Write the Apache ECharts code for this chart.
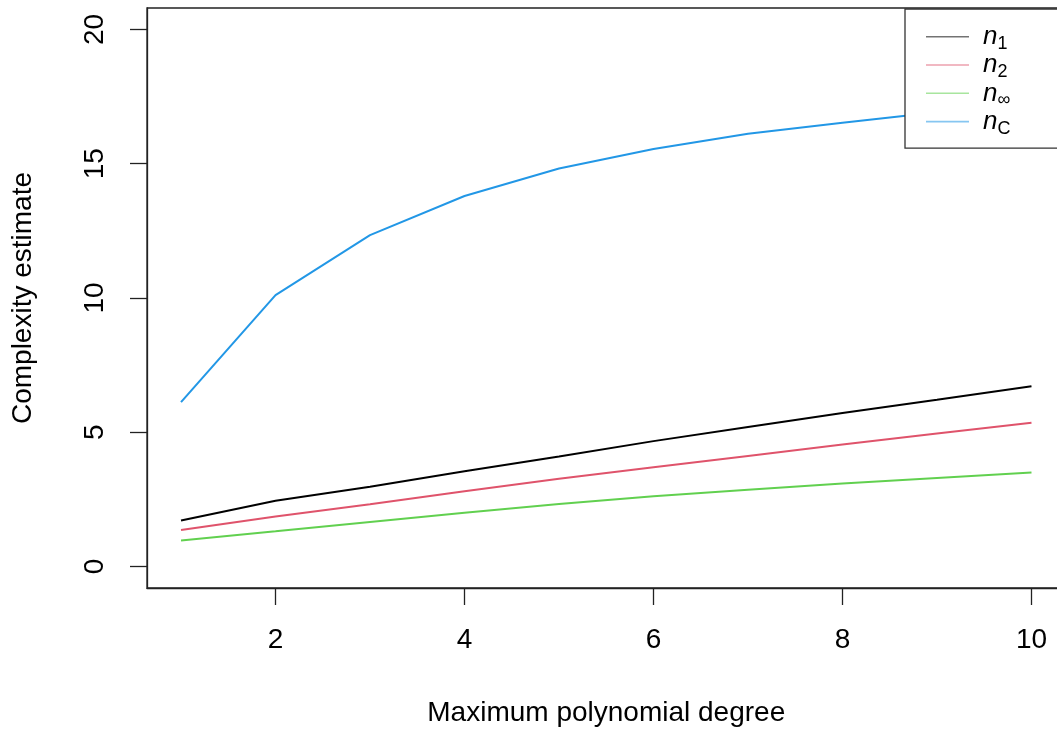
<!DOCTYPE html>
<html lang="en">
  <head>
    <meta charset="UTF-8" />
    <title>Complexity estimate</title>
    <style>
      html, body { margin: 0; padding: 0; background: #fff; }
      #main { width: 1057px; height: 731px; }
    </style>
  </head>
  <body>
    <div id="main"></div>
    <script src="https://cdn.jsdelivr.net/npm/echarts@6/dist/echarts.min.js"></script>
    <script>
      // data
      const degrees = [1, 2, 3, 4, 5, 6, 7, 8, 9, 10];
      const n1 = [1.71, 2.45, 2.97, 3.55, 4.1, 4.67, 5.2, 5.72, 6.21, 6.71];
      const n2 = [1.36, 1.86, 2.32, 2.8, 3.27, 3.7, 4.12, 4.54, 4.95, 5.35];
      const nInf = [0.97, 1.31, 1.66, 2.0, 2.33, 2.62, 2.86, 3.09, 3.3, 3.5];
      const nC = [6.12, 10.11, 12.34, 13.8, 14.82, 15.55, 16.12, 16.53, 16.92, 17.25];
      const xTicks = [2, 4, 6, 8, 10];
      const yTicks = [0, 5, 10, 15, 20];

      const seriesNames = ["n1", "n2", "ninf", "nC"];
      const subs = { n1: "1", n2: "2", ninf: "∞", nC: "C" };
      const colors = ["#000000", "#DF536B", "#61D04F", "#2297E6"];
      const values = [n1, n2, nInf, nC];

      const font = "'Liberation Sans', Arial, Helvetica, sans-serif";
      const myChart = echarts.init(document.getElementById("main"));

      const pairs = (ys) => degrees.map((d, i) => [d, ys[i]]);

      const option = {
        backgroundColor: "#fff",
        animation: false,
        grid: {
          left: 147,
          width: 918.5,
          top: 8,
          bottom: 143,
          outerBoundsMode: "none",
          containLabel: false,
          show: true,
          borderColor: "#222",
          borderWidth: 1.3,
        },
        legend: {
          orient: "vertical",
          left: 905,
          top: 9,
          padding: [13.7, 160, 10.5, 21],
          itemGap: -1.7,
          itemWidth: 43,
          itemHeight: 1.6,
          icon: "rect",
          backgroundColor: "#fff",
          borderColor: "#333",
          borderWidth: 1.3,
          itemStyle: { opacity: 0.55 },
          textStyle: {
            lineHeight: 28,
            padding: [0, 0, 0, 9],
            rich: {
              n: { fontFamily: font, fontSize: 26, fontStyle: "italic", color: "#000", lineHeight: 28, verticalAlign: "middle" },
              s: { fontFamily: font, fontSize: 18, color: "#000", lineHeight: 28, height: 14, verticalAlign: "bottom" },
            },
          },
          formatter: (name) => "{n|n}{s|" + subs[name] + "}",
          data: seriesNames,
        },
        xAxis: {
          type: "value",
          min: 0.64,
          max: 10.36,
          name: "Maximum polynomial degree",
          nameLocation: "middle",
          nameGap: 111,
          nameTextStyle: { fontFamily: font, fontSize: 28, color: "#000" },
          splitLine: { show: false },
          axisLine: { show: true, onZero: false, lineStyle: { color: "#222", width: 1.3 } },
          axisTick: {
            show: true,
            inside: false,
            length: 17,
            customValues: xTicks,
            lineStyle: { color: "#222", width: 1.3 },
          },
          axisLabel: {
            customValues: xTicks,
            margin: 38,
            fontFamily: font,
            fontSize: 28,
            color: "#000",
          },
        },
        yAxis: {
          type: "value",
          min: -0.8,
          max: 20.8,
          name: "Complexity estimate",
          nameLocation: "middle",
          nameGap: 110,
          nameRotate: 90,
          nameTextStyle: { fontFamily: font, fontSize: 28, color: "#000" },
          splitLine: { show: false },
          axisLine: { show: true, onZero: false, lineStyle: { color: "#222", width: 1.3 } },
          axisTick: {
            show: true,
            inside: false,
            length: 17,
            customValues: yTicks,
            lineStyle: { color: "#222", width: 1.3 },
          },
          axisLabel: {
            customValues: yTicks,
            rotate: 90,
            margin: 38,
            fontFamily: font,
            fontSize: 28,
            color: "#000",
          },
        },
        series: seriesNames.map((name, i) => ({
          name: name,
          type: "line",
          data: pairs(values[i]),
          symbol: "none",
          color: colors[i],
          lineStyle: { color: colors[i], width: 2 },
          z: 2,
        })),
      };
      myChart.setOption(option);
    </script>
  </body>
</html>
